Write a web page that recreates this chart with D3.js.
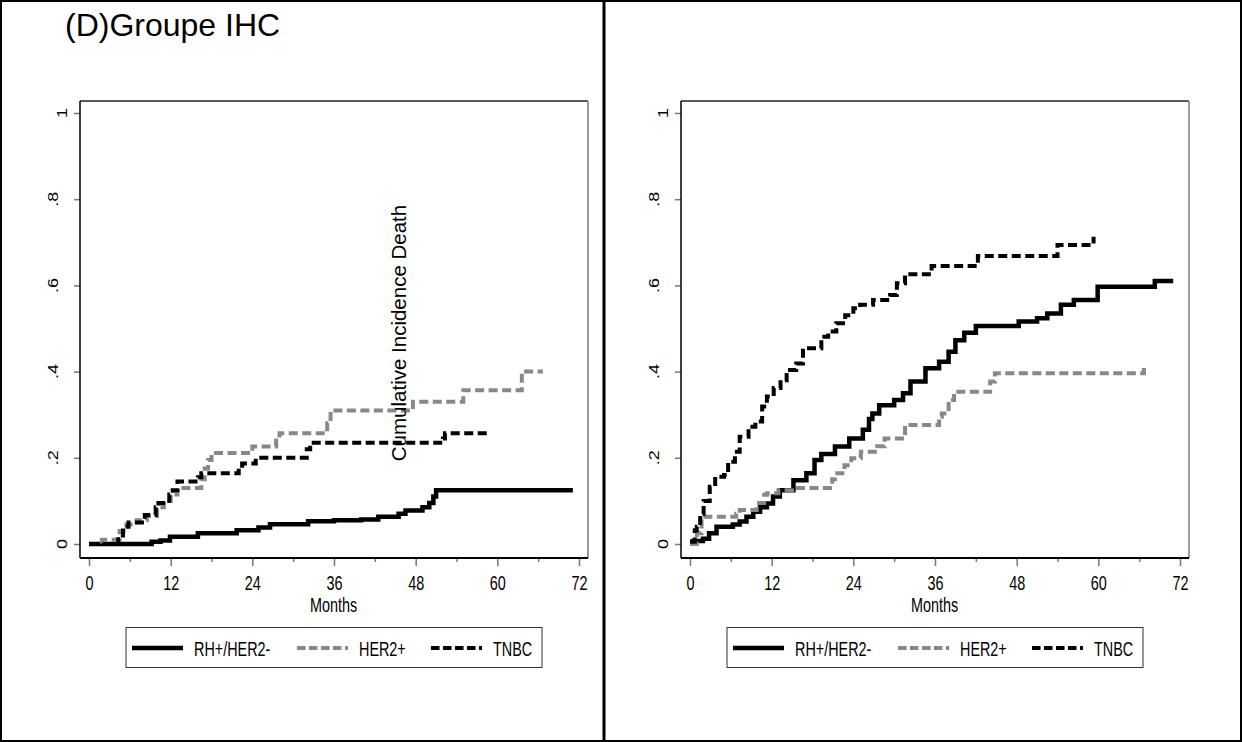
<!DOCTYPE html>
<html>
<head>
<meta charset="utf-8">
<script src="https://cdn.jsdelivr.net/npm/d3@7"></script>
<style>
  html, body { margin: 0; padding: 0; background: #fff; }
  svg { display: block; font-family: "Liberation Sans", Arial, sans-serif; }
</style>
</head>
<body>
<svg id="chart" width="1242" height="742"></svg>
<script>
// Axis ticks and labels
const monthTicks = [0, 12, 24, 36, 48, 60, 72];
const monthMinor = [6, 18, 30, 42, 54, 66];
const incTicks = [0, 0.2, 0.4, 0.6, 0.8, 1];
const incLabels = ["0", ".2", ".4", ".6", ".8", "1"];
const groups = ["RH+/HER2-", "HER2+", "TNBC"];

// Left panel: step points [month, cumulative incidence]
const leftRH = [[0,0],[9.2,0.005],[10.5,0.008],[11.9,0.017],[16,0.025],[21.7,0.032],[24.9,0.038],[26.6,0.046],[32.2,0.053],[36,0.055],[40,0.057],[42.5,0.063],[45.5,0.07],[46.5,0.078],[49,0.085],[50,0.095],[50.6,0.11],[51,0.125],[71.1,0.125]];
const leftHER2 = [[0,0],[1.9,0.01],[4.5,0.03],[5.5,0.045],[7,0.055],[8.5,0.065],[10,0.085],[11,0.1],[12,0.115],[13,0.13],[16.5,0.15],[17,0.175],[17.5,0.195],[18,0.211],[24,0.226],[27.5,0.24],[28,0.257],[35,0.28],[35.5,0.31],[47.6,0.33],[55,0.357],[63.6,0.40],[66.7,0.40]];
const leftTNBC = [[0,0],[4.3,0.02],[5,0.04],[5.8,0.05],[8.2,0.067],[9.8,0.085],[10.2,0.095],[11.8,0.115],[12.3,0.125],[13,0.145],[16,0.155],[16.5,0.164],[22,0.175],[22.5,0.187],[24.5,0.2],[32,0.22],[32.5,0.235],[52,0.245],[52.3,0.257],[59,0.257]];

// Right panel
const rightRH = [[0,0.005],[0.5,0.007],[1.9,0.012],[2.8,0.025],[3.9,0.04],[6.3,0.045],[7.3,0.052],[8.3,0.063],[9.3,0.075],[10.3,0.085],[11.3,0.094],[12.2,0.11],[13.2,0.125],[15.2,0.148],[17.1,0.164],[18.3,0.195],[19.3,0.209],[21.3,0.226],[23.4,0.245],[25.4,0.265],[26.3,0.29],[26.8,0.303],[27.8,0.322],[30,0.334],[31.3,0.35],[32.4,0.377],[34.6,0.408],[36.6,0.423],[38,0.446],[39,0.473],[40.3,0.49],[42,0.506],[48.3,0.516],[51,0.524],[52.5,0.535],[54.5,0.555],[56.4,0.566],[59.9,0.597],[68.3,0.61],[71,0.61]];
const rightHER2 = [[0,0],[1,0.025],[1.7,0.063],[6.8,0.07],[7.3,0.079],[9.8,0.095],[10.9,0.114],[11.3,0.118],[13,0.125],[15,0.13],[20.9,0.15],[21.3,0.164],[22.7,0.183],[23.7,0.199],[25.1,0.214],[27.5,0.227],[28.6,0.245],[31.6,0.276],[36.6,0.295],[37,0.303],[38,0.334],[38.8,0.353],[44.1,0.377],[44.8,0.396],[66.6,0.396],[66.7,0.419]];
const rightTNBC = [[0,0.005],[0.7,0.032],[1,0.04],[1.5,0.07],[2,0.1],[2.9,0.133],[3.7,0.156],[5,0.16],[5.6,0.191],[6.6,0.214],[7.3,0.249],[8.6,0.272],[9.6,0.284],[10.6,0.319],[11.3,0.342],[12.3,0.362],[13.3,0.38],[14.2,0.404],[15.6,0.419],[16.6,0.454],[19.3,0.481],[20.3,0.493],[21.5,0.512],[22.8,0.531],[24,0.547],[25,0.555],[26.9,0.566],[29.4,0.578],[30.4,0.605],[31.6,0.626],[35.5,0.645],[42.3,0.668],[54,0.694],[59.2,0.694],[59.3,0.713]];

const svg = d3.select("#chart");

// Series styles: solid black, grey dashed, black dashed
const styles = [
  { stroke: "#000", dash: null, width: 4.5 },
  { stroke: "#888", dash: "9,4.5", width: 4 },
  { stroke: "#000", dash: "9,4.5", width: 4 }
];

function drawPanel(offsetX, series, withTitle) {
  const g = svg.append("g").attr("transform", `translate(${offsetX},0)`);
  const x = d3.scaleLinear().domain([0, 72]).range([89, 579]);
  const y = d3.scaleLinear().domain([0, 1]).range([544, 113]);
  const box = { l: 80, r: 588, t: 101, b: 558 };

  // plot frame: black top/left/bottom, grey right edge
  g.append("line").attr("x1", box.l).attr("x2", box.r).attr("y1", box.t).attr("y2", box.t)
    .attr("stroke", "#222").attr("stroke-width", 1.5);
  g.append("line").attr("x1", box.r).attr("x2", box.r).attr("y1", box.t).attr("y2", box.b)
    .attr("stroke", "#999").attr("stroke-width", 2);

  // x axis
  const xAxis = g.append("g").attr("transform", `translate(0,${box.b})`)
    .call(d3.axisBottom(x).tickValues(monthTicks).tickSize(8).tickFormat(d3.format("d")));
  xAxis.select(".domain").remove();
  xAxis.selectAll(".tick line").attr("stroke", "#777").attr("stroke-width", 1.5);
  xAxis.selectAll(".tick text")
    .attr("y", 32).attr("dy", 0)
    .attr("font-size", 19.5).attr("fill", "#000")
    .attr("font-family", "Liberation Sans, Arial, sans-serif")
    .attr("transform", "scale(0.74,1)");
  const xMinor = g.append("g").attr("transform", `translate(0,${box.b})`)
    .call(d3.axisBottom(x).tickValues(monthMinor).tickSize(4).tickFormat(""));
  xMinor.select(".domain").remove();
  xMinor.selectAll(".tick line").attr("stroke", "#777").attr("stroke-width", 1.5);
  g.append("line").attr("x1", box.l).attr("x2", box.r).attr("y1", box.b).attr("y2", box.b)
    .attr("stroke", "#000").attr("stroke-width", 2);

  // y axis
  const yAxis = g.append("g").attr("transform", `translate(${box.l},0)`)
    .call(d3.axisLeft(y).tickValues(incTicks).tickSize(6).tickFormat(""));
  yAxis.select(".domain").remove();
  yAxis.selectAll(".tick line").attr("stroke", "#777").attr("stroke-width", 1.5);
  g.append("line").attr("x1", box.l).attr("x2", box.l).attr("y1", box.t).attr("y2", box.b)
    .attr("stroke", "#000").attr("stroke-width", 1.5);

  g.selectAll(".ylab").data(incTicks).join("text")
    .attr("class", "ylab")
    .attr("transform", (d, i) => `translate(${67 - (incLabels[i].length - 1) * 9},${y(d)}) rotate(-90) scale(1.2,1)`)
    .attr("text-anchor", "middle")
    .attr("font-size", 15)
    .attr("fill", "#000")
    .text((d, i) => incLabels[i]);

  // x title
  g.append("text")
    .attr("transform", `translate(${(box.l + box.r) / 2 - 0.5},612) scale(0.72,1)`)
    .attr("text-anchor", "middle").attr("font-size", 20).attr("fill", "#000")
    .text("Months");

  // curves
  const line = d3.line().x(d => x(d[0])).y(d => y(d[1])).curve(d3.curveStepAfter);
  series.forEach((s, i) => {
    g.append("path").datum(s)
      .attr("d", line)
      .attr("fill", "none")
      .attr("stroke", styles[i].stroke)
      .attr("stroke-width", styles[i].width)
      .attr("stroke-dasharray", styles[i].dash)
      .attr("stroke-linejoin", "miter");
  });

  if (withTitle) {
    g.append("text")
      .attr("transform", "translate(406,333) rotate(-90)")
      .attr("text-anchor", "middle").attr("font-size", 20.5).attr("fill", "#000")
      .text("Cumulative Incidence Death");
  }

  // legend
  const lg = g.append("g");
  lg.append("rect").attr("x", 126).attr("y", 627.5).attr("width", 416).attr("height", 40)
    .attr("fill", "#fff").attr("stroke", "#333").attr("stroke-width", 1);
  const itemX = [132, 297, 431];
  groups.forEach((name, i) => {
    lg.append("line")
      .attr("x1", itemX[i]).attr("x2", itemX[i] + 51)
      .attr("y1", 648).attr("y2", 648)
      .attr("stroke", styles[i].stroke)
      .attr("stroke-width", styles[i].width)
      .attr("stroke-dasharray", styles[i].dash === null ? null : "8.5,3.5");
    lg.append("text")
      .attr("transform", `translate(${itemX[i] + 62},656) scale(0.72,1)`)
      .attr("font-size", 20).attr("fill", "#000")
      .text(name);
  });
}

drawPanel(0, [leftRH, leftHER2, leftTNBC], true);
drawPanel(601, [rightRH, rightHER2, rightTNBC], false);

// panel title
svg.append("text").attr("x", 65).attr("y", 36)
  .attr("font-size", 32).attr("fill", "#000")
  .text("(D)Groupe IHC");

// outer frame and divider
svg.append("rect").attr("x", 1).attr("y", 1).attr("width", 1240).attr("height", 740)
  .attr("fill", "none").attr("stroke", "#000").attr("stroke-width", 2);
svg.append("line").attr("x1", 604).attr("x2", 604).attr("y1", 0).attr("y2", 742)
  .attr("stroke", "#000").attr("stroke-width", 3);
</script>
</body>
</html>
